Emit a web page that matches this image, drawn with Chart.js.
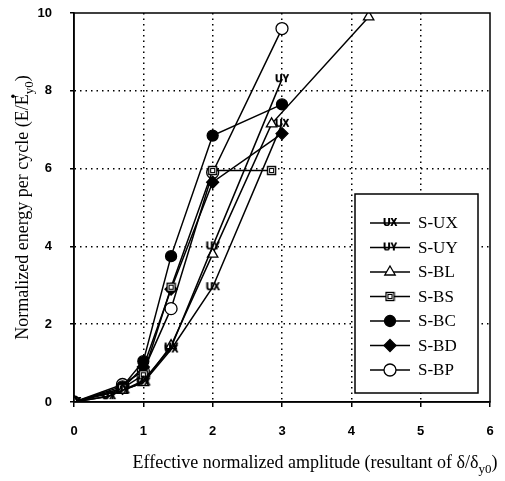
<!DOCTYPE html>
<html>
<head>
<meta charset="utf-8">
<script src="https://cdn.jsdelivr.net/npm/chart.js@4"></script>
<style>
  body { margin: 0; background: #fff; }
</style>
</head>
<body>
<canvas id="myChart" width="505" height="481"></canvas>
<script>
// data (x = effective normalized amplitude, y = E/E*y0)
const uxX = [0, 0.5, 0.7, 1.0, 1.4, 2.0, 3.0];
const uxY = [0, 0.15, 0.3, 0.5, 1.35, 2.95, 7.15];
const uyX = [0, 0.5, 0.7, 1.0, 1.4, 2.0, 3.0];
const uyY = [0, 0.15, 0.3, 0.55, 1.4, 4.0, 8.3];
const blX = [0, 0.7, 1.0, 1.4, 2.0, 2.85, 4.25];
const blY = [0, 0.3, 0.5, 1.45, 3.8, 7.15, 9.9];
const bsX = [0, 0.7, 1.0, 1.4, 2.0, 2.85];
const bsY = [0, 0.35, 0.7, 2.95, 5.95, 5.95];
const bcX = [0, 0.7, 1.0, 1.4, 2.0, 3.0];
const bcY = [0, 0.4, 1.05, 3.75, 6.85, 7.65];
const bdX = [0, 0.7, 1.0, 1.4, 2.0, 3.0];
const bdY = [0, 0.35, 0.9, 2.9, 5.65, 6.9];
const bpX = [0, 0.7, 1.0, 1.4, 2.0, 3.0];
const bpY = [0, 0.45, 0.8, 2.4, 5.9, 9.6];

const seriesNames = ["S-UX", "S-UY", "S-BL", "S-BS", "S-BC", "S-BD", "S-BP"];
const xTicks = [0, 1, 2, 3, 4, 5, 6];
const yTicks = [0, 2, 4, 6, 8, 10];

const pts = (xs, ys) => xs.map((x, i) => ({ x: x, y: ys[i] }));

const TITLE_FONT = "18px 'Liberation Serif', 'Times New Roman', serif";
const SUB_FONT = "13px 'Liberation Serif', 'Times New Roman', serif";

// little text markers used for the UX / UY series
function textMark(str) {
    const c = document.createElement("canvas");
    c.width = 18;
    c.height = 12;
    const g = c.getContext("2d");
    g.fillStyle = "#000";
    g.font = "bold 10px 'Liberation Sans', Arial";
    g.textAlign = "center";
    g.textBaseline = "middle";
    g.fillText(str, 9, 6.5);
    g.fillText(str, 9.4, 6.5);
    return c;
}

function squareMark() {
    const c = document.createElement("canvas");
    c.width = 11;
    c.height = 11;
    const g = c.getContext("2d");
    g.fillStyle = "#fff";
    g.fillRect(1, 1, 9, 9);
    g.strokeStyle = "#000";
    g.lineWidth = 1.4;
    g.strokeRect(1.5, 1.5, 8, 8);
    g.lineWidth = 1;
    g.strokeRect(3.5, 3.5, 4, 4);
    return c;
}

const markUX = textMark("UX");
const markUY = textMark("UY");
const markBS = squareMark();

function ds(label, data, style, fill, radius) {
    return {
        label: label,
        data: data,
        borderColor: "#000",
        borderWidth: 1.5,
        backgroundColor: fill,
        pointStyle: style,
        pointRadius: radius,
        pointBorderWidth: 1.3,
        pointBorderColor: "#000",
        pointBackgroundColor: fill,
        tension: 0,
    };
}

const datasets = [
    ds(seriesNames[0], pts(uxX, uxY), markUX, "#fff", 5),
    ds(seriesNames[1], pts(uyX, uyY), markUY, "#fff", 5),
    ds(seriesNames[2], pts(blX, blY), "triangle", "#fff", 6),
    ds(seriesNames[3], pts(bsX, bsY), markBS, "#fff", 5),
    ds(seriesNames[4], pts(bcX, bcY), "circle", "#000", 5.5),
    ds(seriesNames[5], pts(bdX, bdY), "rectRot", "#000", 6),
    ds(seriesNames[6], pts(bpX, bpY), "circle", "#fff", 6),
];

function drawMarker(ctx, d, x, y) {
    const st = d.pointStyle;
    const r = d.pointRadius;
    if (typeof st !== "string") {
        ctx.drawImage(st, x - st.width / 2, y - st.height / 2);
        return;
    }
    ctx.save();
    ctx.fillStyle = d.pointBackgroundColor;
    ctx.strokeStyle = "#000";
    ctx.lineWidth = 1.3;
    ctx.beginPath();
    if (st === "circle") {
        ctx.arc(x, y, r, 0, Math.PI * 2);
    } else if (st === "triangle") {
        ctx.moveTo(x, y - r);
        ctx.lineTo(x + r * 0.87, y + r * 0.5);
        ctx.lineTo(x - r * 0.87, y + r * 0.5);
        ctx.closePath();
    } else if (st === "rectRot") {
        ctx.moveTo(x, y - r);
        ctx.lineTo(x + r, y);
        ctx.lineTo(x, y + r);
        ctx.lineTo(x - r, y);
        ctx.closePath();
    }
    ctx.fill();
    ctx.stroke();
    ctx.restore();
}

function drawSub(ctx, parts, x, y) {
    // parts: [text, kind] where kind is "n" normal, "sub", "dot"
    let cx = x;
    parts.forEach(([t, kind]) => {
        if (kind === "sub") {
            ctx.font = SUB_FONT;
            ctx.fillText(t, cx, y + 5);
        } else if (kind === "dot") {
            ctx.beginPath();
            ctx.arc(cx - 2, y - 15, 1.8, 0, Math.PI * 2);
            ctx.fill();
            return;
        } else {
            ctx.font = TITLE_FONT;
            ctx.fillText(t, cx, y);
        }
        cx += ctx.measureText(t).width;
    });
}

function partsWidth(ctx, parts) {
    let w = 0;
    parts.forEach(([t, kind]) => {
        if (kind === "dot") return;
        ctx.font = kind === "sub" ? SUB_FONT : TITLE_FONT;
        w += ctx.measureText(t).width;
    });
    return w;
}

const framePlugin = {
    id: "frame",
    afterDraw(chart) {
        const ctx = chart.ctx;
        const a = chart.chartArea;
        ctx.save();
        ctx.strokeStyle = "#000";
        ctx.lineWidth = 1.5;
        ctx.strokeRect(a.left, a.top, a.right - a.left, a.bottom - a.top);

        // axis titles
        ctx.fillStyle = "#000";
        ctx.textBaseline = "alphabetic";
        ctx.textAlign = "left";
        const xt = [["Effective normalized amplitude (resultant of \u03b4/\u03b4", "n"], ["y0", "sub"], [")", "n"]];
        const xw = partsWidth(ctx, xt);
        drawSub(ctx, xt, 315 - xw / 2, 468);

        const yt = [["Normalized energy per cycle (E/E", "n"], ["", "dot"], ["y0", "sub"], [")", "n"]];
        const yw = partsWidth(ctx, yt);
        ctx.translate(28, (a.top + a.bottom) / 2);
        ctx.rotate(-Math.PI / 2);
        drawSub(ctx, yt, -yw / 2, 0);
        ctx.restore();

        // legend box inside the plot
        const bx = 355, by = 194, bw = 123, bh = 199;
        ctx.save();
        ctx.fillStyle = "#fff";
        ctx.fillRect(bx, by, bw, bh);
        ctx.strokeStyle = "#000";
        ctx.lineWidth = 1.5;
        ctx.strokeRect(bx, by, bw, bh);
        chart.data.datasets.forEach((d, i) => {
            const ly = 223 + i * 24.5;
            ctx.strokeStyle = "#000";
            ctx.lineWidth = 1.5;
            ctx.beginPath();
            ctx.moveTo(370, ly);
            ctx.lineTo(410, ly);
            ctx.stroke();
            drawMarker(ctx, d, 390, ly);
            ctx.fillStyle = "#000";
            ctx.font = "17px 'Liberation Serif', 'Times New Roman', serif";
            ctx.textAlign = "left";
            ctx.textBaseline = "middle";
            ctx.fillText(d.label, 418, ly + 1);
        });
        ctx.restore();
    },
};

const gridColor = (ctx) => {
    const v = ctx.tick ? ctx.tick.value : null;
    return v === null || v === 0 || v === ctx.scale.max ? "rgba(0,0,0,0)" : "#000";
};

// keep the label overhang from shrinking the plot area
const noOverhang = (s) => {
    s.paddingTop = 0;
    s.paddingBottom = 0;
    s.paddingLeft = 0;
    s.paddingRight = 0;
};

const config = {
    type: "line",
    data: { datasets: datasets },
    options: {
        responsive: false,
        animation: false,
        layout: { padding: { top: 13, right: 15, left: 0, bottom: 0 } },
        plugins: {
            legend: { display: false },
            tooltip: { enabled: false },
        },
        scales: {
            x: {
                type: "linear",
                min: 0,
                max: 6,
                afterBuildTicks: (s) => { s.ticks = xTicks.map((v) => ({ value: v })); },
                afterFit: (s) => { s.height = 79; noOverhang(s); },
                ticks: {
                    color: "#000",
                    font: { family: "'Liberation Sans', Arial", size: 13, weight: "bold" },
                    padding: 17,
                },
                grid: { color: gridColor, lineWidth: 1.5, tickColor: "#000", tickLength: 5 },
                border: { color: "#000", width: 1.5, dash: [1.5, 4] },
            },
            y: {
                type: "linear",
                min: 0,
                max: 10,
                afterBuildTicks: (s) => { s.ticks = yTicks.map((v) => ({ value: v })); },
                afterFit: (s) => { s.width = 74; noOverhang(s); },
                ticks: {
                    color: "#000",
                    font: { family: "'Liberation Sans', Arial", size: 13, weight: "bold" },
                    padding: 18,
                },
                grid: { color: gridColor, lineWidth: 1.5, tickColor: "#000", tickLength: 4 },
                border: { color: "#000", width: 1.5, dash: [1.5, 4] },
            },
        },
    },
    plugins: [framePlugin],
};

new Chart(document.getElementById("myChart"), config);
</script>
</body>
</html>
